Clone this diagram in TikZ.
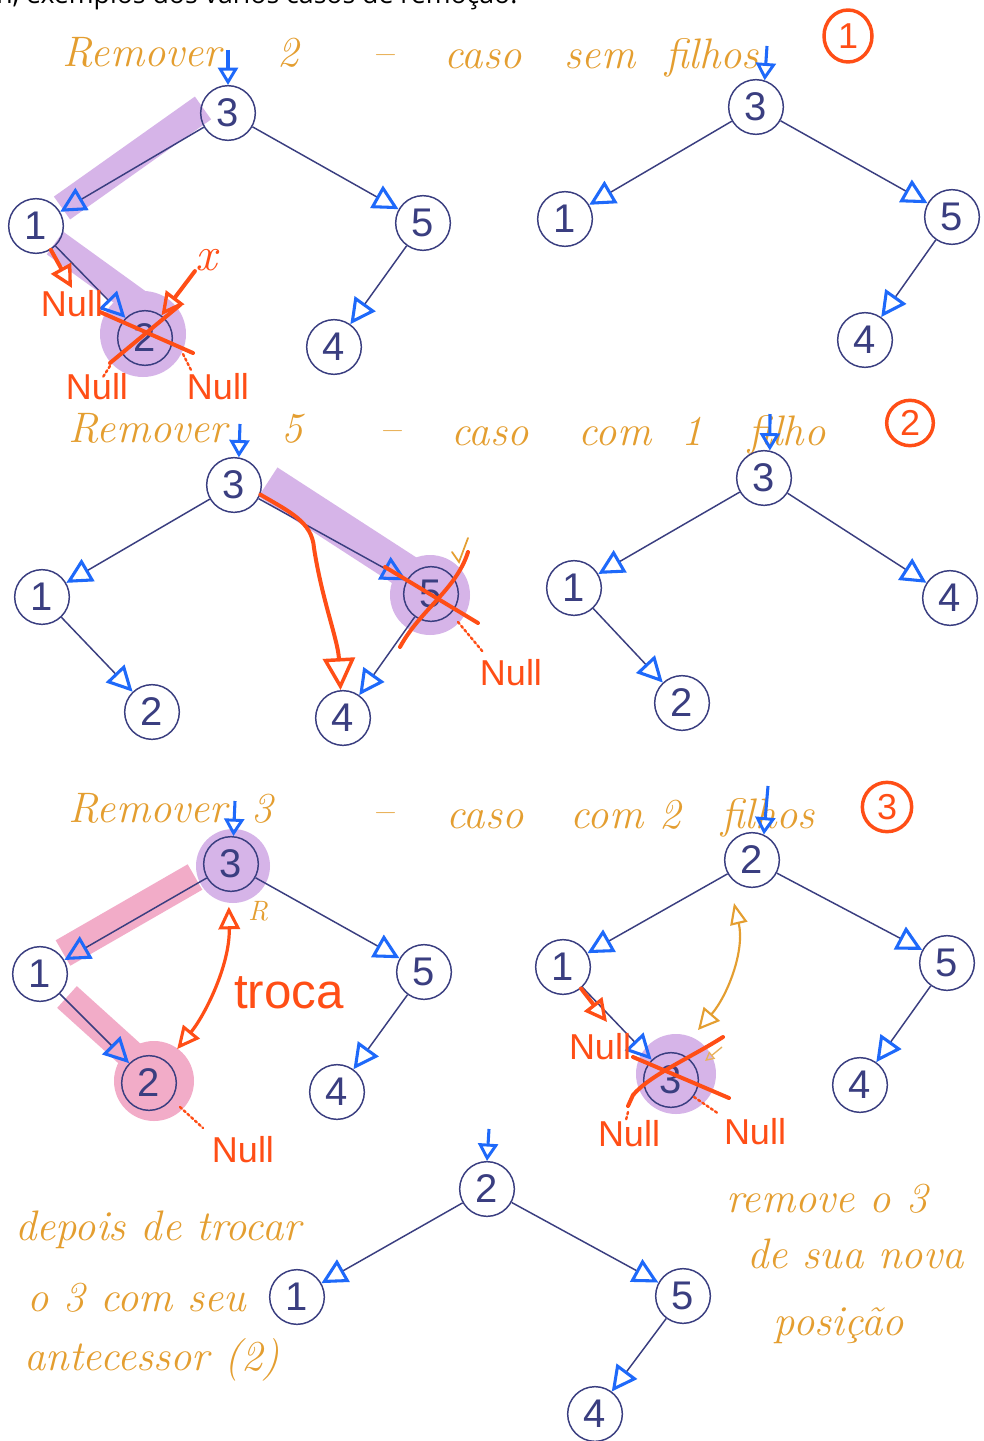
\documentclass[tikz,border=0pt]{standalone}
\usepackage{fontspec}
\newfontfamily\inksans{Liberation Sans}
\newfontfamily\printsans{Open Sans}
\usetikzlibrary{arrows.meta,shapes.geometric}

\definecolor{ink}{RGB}{58,62,128}
\definecolor{pen}{RGB}{30,105,250}
\definecolor{ochre}{RGB}{228,158,48}
\definecolor{marker}{RGB}{255,78,22}
\definecolor{lilac}{RGB}{214,180,232}
\definecolor{rose}{RGB}{242,172,200}

\tikzset{
  tn/.style={circle, draw=ink, line width=1.1pt, minimum size=41pt, inner sep=0pt,
    text=ink, font=\inksans\fontsize{30}{30}\selectfont},
  link/.style={draw=ink, line width=1.1pt,
    -{Triangle[color=pen, open, length=19pt, width=19pt, line width=2.3pt]}},
  ptr/.style={draw=pen, line width=2.3pt,
    -{Triangle[color=pen, open, length=13pt, width=15pt, line width=2.2pt]}},
  hand/.style={text=ochre, font=\itshape\fontsize{32}{32}\selectfont, inner sep=0pt, anchor=base},
  redtxt/.style={text=marker, font=\inksans\fontsize{27}{27}\selectfont, inner sep=0pt},
  redline/.style={draw=marker, line width=3pt, line cap=round},
  redarrow/.style={redline, -{Triangle[open, length=17pt, width=17pt, line width=2.5pt]}},
  band/.style={line width=#1, line cap=butt},
  reddots/.style={draw=marker, line width=1.8pt, dotted, line cap=round},
  badge/.style={ellipse, draw=marker, line width=2.6pt, inner sep=0pt,
    minimum width=36pt, minimum height=39pt, text=marker,
    font=\inksans\fontsize{27}{27}\selectfont},
}

\begin{document}
\begin{tikzpicture}[x=0.75pt, y=-0.75pt]
\useasboundingbox (0,0) rectangle (984,1441);
\fill[white] (0,0) rectangle (984,1441);

% heading line of the page, cut by the top edge
\node[anchor=base west, inner sep=0pt, font=\printsans\fontsize{20}{20}\selectfont]
  (lead) at (-4,4) {n, exemplos dos vários casos de remoção:};

% ================= case 1: leaf =================
\node[hand] (t1a) at (142,67) {Remover};
\node[hand] (t1b) at (288,67) {2};
\node[hand] (t1c) at (383,67) {–};
\node[hand] (t1d) at (483,69) {caso};
\node[hand] (t1e) at (600,69) {sem};
\node[hand] (t1f) at (712,69) {filhos};
\node[badge] (k1) at (848,36) {1};

% highlighted search path
\draw[lilac, band=21pt] (203,108) -- (62,208);
\draw[lilac, band=21pt] (55,243) -- (138,303);
\fill[lilac] (143,334) circle[radius=43];

\node[tn] (a3) at (228,113) {3};
\node[tn] (a1) at (36,226) {1};
\node[tn] (a5) at (423,223) {5};
\node[tn] (a2) at (145,338) {2};
\node[tn] (a4) at (334,347) {4};
\coordinate (pa) at (228,50);
\draw[ptr] (pa) -- (a3.north);
\draw[link] (a3) -- (a1);
\draw[link] (a3) -- (a5);
\draw[link] (a1) -- (a2);
\draw[link] (a5) -- (a4);

\coordinate (na) at (72,288);
\draw[redarrow] (a1.-58) -- (na);
\node[redtxt] (null1) at (72,304) {Null};
\node[text=marker, inner sep=0pt, font=\itshape\fontsize{36}{36}\selectfont] (xlab) at (206,260) {x};
\draw[redarrow] (xlab.south west) -- (a2.54);
\draw[redline] (100,312) -- (193,353);
\draw[redline] (180,305) -- (110,363);
\draw[reddots] (110,366) -- (103,377);
\draw[reddots] (183,354) -- (192,372);
\node[redtxt] (null2) at (97,387) {Null};
\node[redtxt] (null3) at (218,387) {Null};

% result tree of case 1
\node[tn] (b3) at (756,107) {3};
\node[tn] (b1) at (565,219) {1};
\node[tn] (b5) at (952,217) {5};
\node[tn] (b4) at (865,340) {4};
\coordinate (pb) at (767,46);
\draw[ptr] (pb) -- (b3.72);
\draw[link] (b3) -- (b1);
\draw[link] (b3) -- (b5);
\draw[link] (b5) -- (b4);

% ================= case 2: one child =================
\node[hand] (t2a) at (148,442) {Remover};
\node[hand] (t2b) at (292,442) {5};
\node[hand] (t2c) at (390,442) {–};
\node[hand] (t2d) at (490,445) {caso};
\node[hand] (t2e) at (615,445) {com};
\node[hand] (t2f) at (692,445) {1};
\node[hand] (t2g) at (787,445) {filho};
\node[badge, minimum width=35pt, minimum height=34pt] (k2) at (910,423) {2};

\draw[lilac, band=26pt] (268,482) -- (410,574);
\fill[lilac] (430,595) circle[radius=40];

\node[tn] (c3) at (234,485) {3};
\node[tn] (c1) at (42,597) {1};
\node[tn] (c2) at (152,712) {2};
\node[tn] (c5) at (431,594) {5};
\node[tn] (c4) at (343,718) {4};
\coordinate (pc) at (240,424);
\draw[ptr] (pc) -- (c3.80);
\draw[link] (c3) -- (c1);
\draw[link] (c1) -- (c2);
\draw[link] (c3) -- (c5);
\draw[link] (c5) -- (c4);

\draw[redline, -{Triangle[open, length=24pt, width=24pt, line width=2.6pt]}]
  (c3.-20) .. controls (290,512) and (312,522) .. (314,548)
  .. controls (322,600) and (338,640) .. (c4.95);
\draw[redline] (385,567) -- (478,623);
\draw[redline] (468,552) .. controls (456,590) and (420,610) .. (400,647);
\draw[ochre, line width=1.3pt, line cap=round] (468,538) -- (459,562) -- (452,552);
\draw[reddots] (458,622) -- (483,652);
\node[redtxt] (null4) at (511,673) {Null};

% result tree of case 2
\node[tn] (d3) at (764,478) {3};
\node[tn] (d1) at (574,588) {1};
\node[tn] (d4) at (950,598) {4};
\node[tn] (d2) at (682,703) {2};
\coordinate (pd) at (770,414);
\draw[ptr] (pd) -- (d3.78);
\draw[link] (d3) -- (d1);
\draw[link] (d3) -- (d4);
\draw[link] (d1) -- (d2);

% ================= case 3: two children =================
\node[hand] (t3a) at (148,822) {Remover};
\node[hand] (t3b) at (262,822) {3};
\node[hand] (t3c) at (383,824) {–};
\node[hand] (t3d) at (485,828) {caso};
\node[hand] (t3e) at (607,828) {com};
\node[hand] (t3f) at (670,828) {2};
\node[hand] (t3g) at (768,828) {filhos};
\node[badge, minimum width=37pt, minimum height=37pt] (k3) at (887,807) {3};

\fill[lilac] (233,866) circle[radius=37];
\draw[rose, band=22pt] (195,877) -- (63,953);
\draw[rose, band=22pt] (67,997) -- (140,1063);
\fill[rose] (154,1081) circle[radius=40];

\node[tn] (e3) at (231,864) {3};
\node[tn] (e1) at (40,974) {1};
\node[tn] (e2) at (149,1083) {2};
\node[tn] (e5) at (424,972) {5};
\node[tn] (e4) at (337,1092) {4};
\coordinate (pe) at (235,801);
\draw[ptr] (pe) -- (e3.85);
\draw[link] (e3) -- (e1);
\draw[link] (e1) -- (e2);
\draw[link] (e3) -- (e5);
\draw[link] (e5) -- (e4);

\node[text=ochre, inner sep=0pt, font=\itshape\fontsize{21}{21}\selectfont] (rmark) at (258,911) {R};
\draw[redline, line width=2.4pt,
  {Triangle[open, length=17pt, width=16pt, line width=2.3pt]}-{Triangle[open, length=17pt, width=16pt, line width=2.3pt]},
  shorten <=11pt, shorten >=12pt]
  (e3.-95) .. controls (230,965) and (205,1015) .. (e2.50);
\node[redtxt, font=\inksans\fontsize{37}{37}\selectfont] (swap) at (289,993) {troca};
\draw[reddots] (180,1107) -- (203,1128);
\node[redtxt] (null5) at (243,1150) {Null};

% tree of case 3 after the swap
\fill[lilac] (676,1074) circle[radius=40];
\node[tn] (f2) at (752,860) {2};
\node[tn] (f1) at (563,967) {1};
\node[tn] (f5) at (947,963) {5};
\node[tn] (f3) at (671,1080) {3};
\node[tn] (f4) at (860,1085) {4};
\coordinate (pf) at (768,786);
\draw[ptr] (pf) -- (f2.65);
\draw[link] (f2) -- (f1);
\draw[link] (f2) -- (f5);
\draw[link] (f1) -- (f3);
\draw[link] (f5) -- (f4);

\coordinate (sw1) at (734,903);
\coordinate (sw2) at (698,1030);
\draw[ochre, line width=1.6pt,
  {Triangle[open, length=16pt, width=13pt, line width=1.6pt]}-{Triangle[open, length=16pt, width=16pt, line width=1.6pt]}]
  (sw1) .. controls (745,950) and (728,995) .. (sw2);
\draw[ochre!80, line width=1pt, -{Triangle[open, length=7pt, width=7pt]}] (722,1047) -- (705,1061);

\coordinate (nf) at (607,1022);
\draw[redarrow] (f1.-50) -- (nf);
\node[redtxt] (null6) at (600,1047) {Null};
\draw[redline] (633,1057) -- (729,1098);
\draw[redline] (723,1037) .. controls (690,1058) and (650,1075) .. (633,1095) -- (628,1106);
\draw[reddots] (628,1112) -- (626,1120);
\draw[reddots] (694,1097) -- (719,1114);
\node[redtxt] (null7) at (629,1134) {Null};
\node[redtxt] (null8) at (755,1132) {Null};

% ================= tree after removing 3 =================
\node[tn] (g2) at (487,1189) {2};
\node[tn] (g1) at (297,1297) {1};
\node[tn] (g5) at (683,1296) {5};
\node[tn] (g4) at (595,1414) {4};
\coordinate (pg) at (489,1129);
\draw[ptr] (pg) -- (g2.north);
\draw[link] (g2) -- (g1);
\draw[link] (g2) -- (g5);
\draw[link] (g5) -- (g4);

\node[hand] (n1) at (158,1240) {depois de trocar};
\node[hand] (n2) at (137,1311) {o 3 com seu};
\node[hand] (n3) at (152,1370) {antecessor (2)};
\node[hand] (m1) at (827,1212) {remove o 3};
\node[hand, anchor=base west] (m2) at (747,1268) {de sua nova};
\node[hand] (m3) at (839,1335) {posição};
\end{tikzpicture}
\end{document}
